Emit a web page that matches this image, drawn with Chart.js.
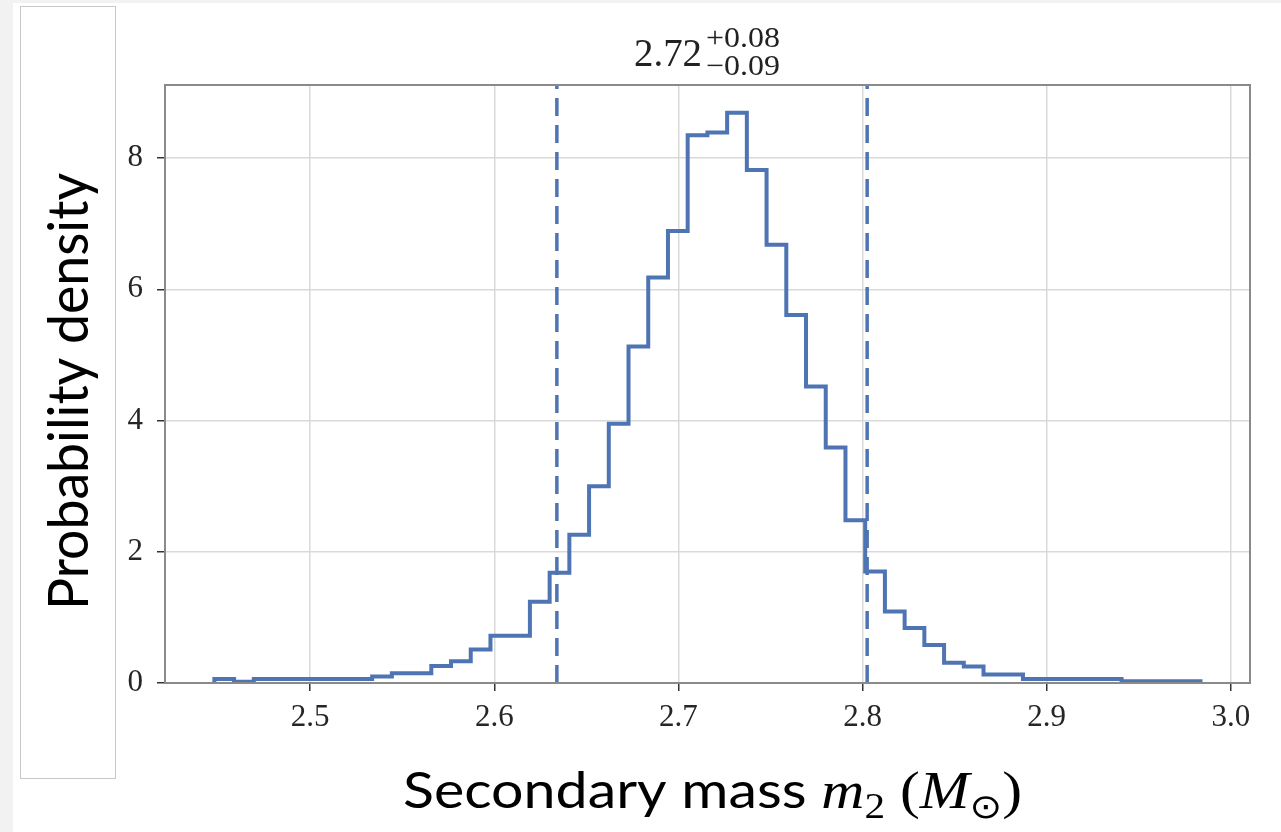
<!DOCTYPE html>
<html><head><meta charset="utf-8">
<script src="https://cdn.jsdelivr.net/npm/chart.js@4.4.1/dist/chart.umd.min.js"></script>
<style>html,body{margin:0;padding:0;background:#fff;overflow:hidden}#wrap{width:1281px;height:832px;position:relative}</style>
</head><body><div id="wrap"><canvas id="c" width="1281" height="832"></canvas></div>
<script>
// ---- data ----
const binStart = 2.448;
const binWidth = 0.01071;
const density = [0.06,0.02,0.06,0.06,0.06,0.06,0.06,0.06,0.10,0.15,
                 0.15,0.26,0.33,0.51,0.72,0.72,1.24,1.68,2.26,3.00,
                 3.95,5.13,6.18,6.89,8.35,8.39,8.69,7.82,6.68,5.61,
                 4.52,3.59,2.48,1.70,1.09,0.84,0.58,0.31,0.25,0.13,
                 0.13,0.06,0.06,0.06,0.06,0.06,0.025,0.025,0.025,0.025];
const intervalLines = [2.634, 2.8025];
const xTicks = [2.5, 2.6, 2.7, 2.8, 2.9, 3.0];
const yTicks = [0, 2, 4, 6, 8];
const xRange = [2.4212, 3.0104];
const yRange = [0, 9.114];
const titleMain = '2.72', titleSup = '+0.08', titleSub = '\u22120.09';
const yLabel = 'Probability density';
const xLabelText = 'Secondary mass ';

// ---- build step outline from bins ----
const stepPts = [{x: binStart, y: 0}];
density.forEach((h, i) => {
  const a = binStart + i * binWidth;
  stepPts.push({x: a, y: h}, {x: a + binWidth, y: h});
});
stepPts.push({x: binStart + density.length * binWidth, y: 0});

const blue = '#4f74b3';
const datasets = [{
  data: stepPts, borderColor: blue, borderWidth: 4, pointRadius: 0,
  tension: 0, fill: false, borderJoinStyle: 'miter', borderCapStyle: 'butt'
}];
intervalLines.forEach(v => datasets.push({
  data: [{x: v, y: yRange[0]}, {x: v, y: yRange[1]}],
  borderColor: blue, borderWidth: 3.5, borderDash: [18, 9], pointRadius: 0, fill: false
}));

const bgPlugin = {
  id: 'bg',
  beforeDraw(chart) {
    const ctx = chart.ctx;
    ctx.save();
    ctx.fillStyle = '#ffffff';
    ctx.fillRect(0, 0, chart.width, chart.height);
    ctx.fillStyle = '#f2f2f2';
    ctx.fillRect(0, 0, 13, chart.height);
    ctx.fillRect(0, 0, chart.width, 3);
    ctx.strokeStyle = '#c8c8c8';
    ctx.lineWidth = 1;
    ctx.strokeRect(20.5, 6.5, 95, 772);
    ctx.restore();
  }
};

const textPlugin = {
  id: 'texts',
  afterDraw(chart) {
    const ctx = chart.ctx, ca = chart.chartArea;
    ctx.save();
    // frame top/right
    ctx.strokeStyle = '#8a8a8a';
    ctx.lineWidth = 2;
    ctx.strokeRect(ca.left, ca.top, ca.right - ca.left, ca.bottom - ca.top);
    // title with super/subscripts
    ctx.fillStyle = '#222';
    ctx.textBaseline = 'alphabetic';
    ctx.textAlign = 'left';
    const mainFont = '39px "Liberation Serif"', scrFont = '29px "Liberation Serif"';
    ctx.font = mainFont;
    const wMain = ctx.measureText(titleMain).width;
    ctx.font = scrFont;
    const wSup = ctx.measureText(titleSup).width;
    const wSub = ctx.measureText(titleSub).width;
    const gap = 4;
    const x0 = 634;
    const sScr = 74 / Math.max(wSup, wSub);
    ctx.font = mainFont;
    ctx.save(); ctx.translate(x0, 66); ctx.scale(68 / wMain, 1); ctx.fillText(titleMain, 0, 0); ctx.restore();
    ctx.font = scrFont;
    ctx.save(); ctx.translate(x0 + 68 + gap, 47); ctx.scale(sScr, 1); ctx.fillText(titleSup, 0, 0); ctx.restore();
    ctx.save(); ctx.translate(x0 + 68 + gap, 75); ctx.scale(sScr, 1); ctx.fillText(titleSub, 0, 0); ctx.restore();

    // y label
    ctx.save();
    ctx.fillStyle = '#000';
    ctx.font = '57px Lato';
    const wy = ctx.measureText(yLabel).width;
    ctx.translate(88, 391.5);
    ctx.rotate(-Math.PI / 2);
    ctx.scale(437 / wy, 1);
    ctx.textAlign = 'center';
    ctx.fillText(yLabel, 0, 0);
    ctx.restore();

    // x label
    const segs = [
      {t: xLabelText, f: '50px Lato', dy: 0},
      {t: 'm', f: 'italic 52px "Liberation Serif"', dy: 0},
      {t: '2', f: '36px "Liberation Serif"', dy: 10},
      {t: ' (', f: '52px "Liberation Serif"', dy: 0},
      {t: 'M', f: 'italic 52px "Liberation Serif"', dy: 0},
      {t: '\u2299', f: '34px "DejaVu Sans"', dy: 10},
      {t: ')', f: '52px "Liberation Serif"', dy: 0}
    ];
    let tw = 0;
    segs.forEach(s => { ctx.font = s.f; s.w = ctx.measureText(s.t).width; tw += s.w; });
    const sx = 619 / tw;
    ctx.save();
    ctx.fillStyle = '#000';
    ctx.translate(403, 808);
    ctx.scale(sx, 1);
    let cx = 0;
    segs.forEach(s => { ctx.font = s.f; ctx.fillText(s.t, cx, s.dy); cx += s.w; });
    ctx.restore();
    ctx.restore();
  }
};

const tickFont = {family: '"Liberation Serif"', size: 31};
new Chart(document.getElementById('c'), {
  type: 'line',
  data: {datasets},
  options: {
    animation: false, responsive: false, devicePixelRatio: 1,
    layout: {padding: {left: 0, top: 85, right: 31, bottom: 0}},
    plugins: {legend: {display: false}, tooltip: {enabled: false}, title: {display: false}},
    scales: {
      x: {
        type: 'linear', min: xRange[0], max: xRange[1],
        afterBuildTicks: s => { s.ticks = xTicks.map(v => ({value: v})); },
        afterFit: s => { s.height = 149; },
        ticks: {callback: v => v.toFixed(1), font: tickFont, color: '#262626', padding: 8, maxRotation: 0, autoSkip: false},
        grid: {color: '#d9d9d9', lineWidth: 1.5, tickLength: 8, tickColor: '#333', tickWidth: 1.5},
        border: {display: true, color: '#8a8a8a', width: 2}
      },
      y: {
        type: 'linear', min: yRange[0], max: yRange[1],
        afterBuildTicks: s => { s.ticks = yTicks.map(v => ({value: v})); },
        afterFit: s => { s.width = 165; },
        ticks: {callback: v => String(v), font: tickFont, color: '#262626', padding: 14, autoSkip: false},
        grid: {color: '#d9d9d9', lineWidth: 1.5, tickLength: 8, tickColor: '#333', tickWidth: 1.5},
        border: {display: true, color: '#8a8a8a', width: 2}
      }
    }
  },
  plugins: [bgPlugin, textPlugin]
});
</script></body></html>
